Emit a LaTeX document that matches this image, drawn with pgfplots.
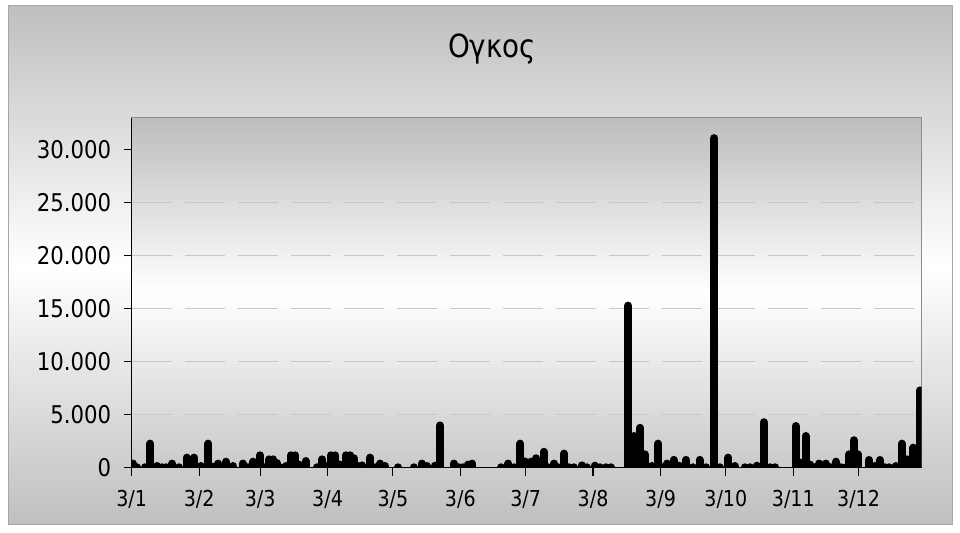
\documentclass[border=0pt]{standalone}
\usepackage{fontspec}
\setmainfont{DejaVu Sans}[FakeStretch=0.87]
\usepackage{pgfplots}
\pgfplotsset{compat=1.18}
\usepackage{pgfplotstable}

% day = days after 3/1, vol = volume
\pgfplotstableread{
day vol
0.6 400
2.4 50
6.1 50
8.5 2280
11.6 170
13.9 50
15.8 50
18.7 400
21.7 50
25.2 960
28.8 960
31.8 170
35.2 2280
37.3 100
39.8 400
43.4 580
46.5 170
51.1 400
53.4 50
55.7 580
59.0 1180
61.2 50
63.3 800
65.1 800
66.7 450
68.1 50
70.9 170
73.1 1180
75.2 1180
77.0 300
79.9 640
85.1 50
87.6 800
89.7 170
91.5 1180
93.6 1180
95.6 300
98.4 1180
100.5 1180
102.1 900
103.9 170
106.0 230
109.6 960
111.7 50
114.2 400
116.3 170
122.3 50
129.6 50
133.3 400
135.6 170
139.3 200
141.7 4000
148.0 400
150.3 50
152.1 50
154.4 300
156.5 400
169.8 50
173.1 400
175.5 50
178.5 2280
180.6 600
183.6 580
185.9 900
189.3 1510
191.4 50
194.1 400
196.0 50
198.7 1340
200.8 50
203.1 50
206.8 230
209.0 50
212.7 200
215.0 50
217.8 50
220.1 50
228.1 15300
230.9 3000
233.6 3770
235.7 1270
238.9 170
241.9 2280
243.9 50
246.0 400
249.0 750
251.7 200
254.7 750
257.7 50
260.9 750
264.1 50
267.7 31100
270.1 50
274.1 960
277.0 170
281.6 50
284.3 50
287.1 200
290.4 4300
293.5 50
295.8 50
305.1 3940
307.3 500
309.7 3000
311.9 300
313.3 50
316.0 400
318.8 400
321.1 50
323.6 580
326.1 50
328.0 50
329.8 1270
331.8 2600
333.7 1270
338.8 740
341.5 170
343.9 740
346.3 50
348.2 50
351.2 170
353.9 2280
356.2 800
359.2 1900
362.2 7300
}\volume

\begin{document}
\begin{tikzpicture}
\useasboundingbox (0bp,0bp) rectangle (960bp,533bp);
\fill[white] (0bp,0bp) rectangle (960bp,533bp);
% chart area
\shade[top color=black!25, bottom color=black!25, middle color=white]
  (8bp,8bp) rectangle (952bp,527bp);
\draw[black!35, line width=1bp] (8bp,8bp) rectangle (952bp,527bp);
\node[font=\fontsize{32}{38}\selectfont] at (492bp,484bp) {Ογκος};

\begin{axis}[
    at={(131.7bp,65.2bp)}, anchor=south west,
    scale only axis,
    width=790bp, height=349.8bp,
    xmin=0, xmax=363,
    ymin=0, ymax=33000,
    axis x line*=bottom,
    axis y line*=left,
    axis line style={black, line width=1.3bp},
    axis background/.style={top color=black!26, bottom color=black!21,
        middle color=white, draw=black!45, line width=1bp},
    xtick={0,31,59,90,120,151,181,212,243,273,304,334},
    xticklabels={3/1,3/2,3/3,3/4,3/5,3/6,3/7,3/8,3/9,3/10,3/11,3/12},
    ytick={0,5000,10000,15000,20000,25000,30000},
    scaled y ticks=false,
    /pgf/number format/.cd, 1000 sep={.}, assume math mode=true,
    /pgfplots/.cd,
    tick align=outside,
    major tick length=8bp,
    tick style={black, line width=1.2bp},
    xticklabel style={font=\fontsize{22}{26}\selectfont, yshift=-11bp},
    yticklabel style={font=\fontsize{24.5}{29}\selectfont, xshift=-9bp},
    ymajorgrids,
    major grid style={black!22, line width=1bp, dash pattern=on 40bp off 13bp},
]
\addplot[ycomb, draw=black, line width=8bp, line cap=round, mark=none]
  table[x=day, y=vol] {\volume};
\end{axis}
\end{tikzpicture}
\end{document}
